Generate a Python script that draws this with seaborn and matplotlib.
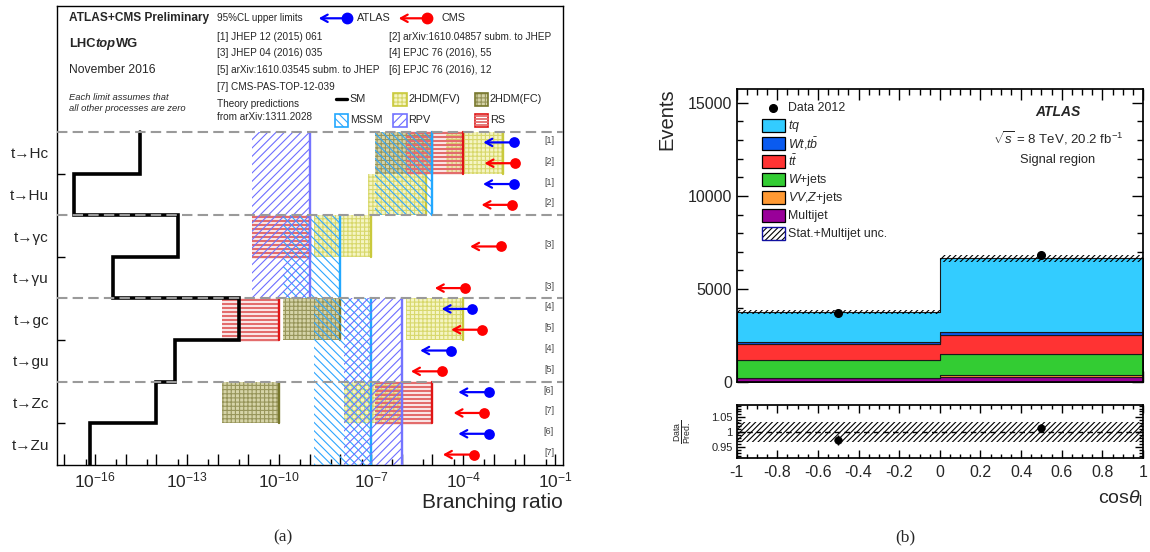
import numpy as np
import pandas as pd
import matplotlib
matplotlib.use("Agg")
import matplotlib.pyplot as plt
import seaborn as sns
from matplotlib.patches import Rectangle
from matplotlib.lines import Line2D
from matplotlib.ticker import FixedLocator, FixedFormatter, MultipleLocator
from matplotlib.transforms import blended_transform_factory

# ---------------- (a) FCNC branching ratio limits ----------------
processes = ["t→Hc", "t→Hu", "t→γc", "t→γu", "t→gc", "t→gu", "t→Zc", "t→Zu"]
sm_br = [3e-15, 2e-17, 5e-14, 4e-16, 5e-12, 4e-14, 1e-14, 7e-17]

atlas_rows = [0, 1, 4, 5, 6, 7]
atlas_limit = [4.6e-3, 4.5e-3, 2.0e-4, 4.0e-5, 7.0e-4, 7.0e-4]
atlas_ref = ["[1]", "[1]", "[4]", "[4]", "[6]", "[6]"]
cms_rows = [0, 1, 2, 3, 4, 5, 6, 7]
cms_limit = [5.0e-3, 4.0e-3, 1.7e-3, 1.2e-4, 4.1e-4, 2.0e-5, 4.9e-4, 2.2e-4]
cms_ref = ["[2]", "[2]", "[3]", "[3]", "[5]", "[5]", "[7]", "[7]"]

# theory predictions: model, first row, last row, low and high branching ratio
theory_model = ["2HDM(FV)", "2HDM(FV)", "2HDM(FV)", "2HDM(FV)", "2HDM(FV)",
                "2HDM(FC)", "2HDM(FC)", "2HDM(FC)",
                "RS", "RS", "RS", "RS",
                "MSSM", "MSSM", "MSSM", "MSSM",
                "RPV", "RPV", "RPV", "RPV"]
theory_first = [0, 1, 2, 4, 6, 0, 4, 6, 0, 2, 4, 6, 0, 2, 4, 6, 0, 2, 4, 6]
theory_last = [0, 1, 2, 4, 6, 0, 4, 6, 0, 2, 4, 6, 1, 3, 5, 7, 1, 3, 5, 7]
theory_low = [2.7e-5, 8.1e-8, 1.35e-9, 1.35e-6, 1.35e-8,
              1.35e-7, 1.35e-10, 1.35e-12,
              1.35e-6, 1.35e-11, 1.35e-12, 1.35e-7,
              1.35e-7, 1.35e-10, 1.35e-9, 1.35e-9,
              1.35e-11, 1.35e-11, 1.35e-8, 1.35e-8]
theory_high = [2e-3, 6e-6, 1e-7, 1e-4, 1e-6,
               1e-5, 1e-8, 1e-10,
               1e-4, 1e-9, 1e-10, 1e-5,
               1e-5, 1e-8, 1e-7, 1e-7,
               1e-9, 1e-9, 1e-6, 1e-6]

references = ["[1] JHEP 12 (2015) 061", "[2] arXiv:1610.04857 subm. to JHEP",
              "[3] JHEP 04 (2016) 035", "[4] EPJC 76 (2016), 55",
              "[5] arXiv:1610.03545 subm. to JHEP", "[6] EPJC 76 (2016), 12",
              "[7] CMS-PAS-TOP-12-039"]
br_label_exp = [-16, -13, -10, -7, -4, -1]

# ---------------- (b) cos theta_l, signal region ----------------
cos_edges = [-1, 0, 1]
cos_centers = [-0.5, 0.5]
bkg_names = ["tq", "Wt,tb", "ttbar", "W+jets", "VV,Z+jets", "Multijet"]
tq = [1575, 3970]
wt_tb = [125, 160]
ttbar = [840, 1020]
wjets = [970, 1100]
vv_zjets = [40, 140]
multijet = [210, 260]
data_2012 = [3700, 6850]
stack_unc = [120, 170]
ratio = [0.974, 1.015]
ratio_unc = 0.033
ratio_xticks = [-1, -0.8, -0.6, -0.4, -0.2, 0, 0.2, 0.4, 0.6, 0.8, 1]
legend_labels = ["Data 2012", r"$tq$", r"$Wt$,$t\bar{b}$", r"$t\bar{t}$", r"$W$+jets",
                 r"$VV$,$Z$+jets", "Multijet", "Stat.+Multijet unc."]

# ---------------- style ----------------
sns.set_theme(style="ticks")
plt.rcParams["font.family"] = ["Liberation Sans", "DejaVu Sans"]
plt.rcParams["mathtext.fontset"] = "custom"
plt.rcParams["mathtext.rm"] = "Liberation Sans"
plt.rcParams["mathtext.it"] = "Liberation Sans:italic"
plt.rcParams["mathtext.bf"] = "Liberation Sans:bold"
plt.rcParams["axes.unicode_minus"] = False
plt.rcParams["hatch.linewidth"] = 0.8

model_style = {
    "2HDM(FV)": dict(face="#f5f5c4", hc="#d8d86c", line="#c9c93c", hatch="++++", z=1),
    "2HDM(FC)": dict(face="#d6d4a8", hc="#97955a", line="#77772c", hatch="++++", z=2),
    "RS": dict(face="none", hc="#e36c6c", line="#e01515", hatch="----", z=3),
    "MSSM": dict(face="none", hc="#2ea6ff", line="#22a8ff", hatch="\\\\\\\\", z=4),
    "RPV": dict(face="none", hc="#6e6eff", line="#7474ff", hatch="////", z=5),
}
bkg_colors = ["#33ccff", "#0a5bf0", "#ff3333", "#33cc33", "#ff9933", "#990099"]

W, H = 1150, 552
fig = plt.figure(figsize=(W / 100, H / 100), dpi=100)


def fx(x):
    return x / W


def fy(y):
    return 1 - y / H


def put(x, y, s, **kw):
    kw.setdefault("va", "center")
    kw.setdefault("ha", "left")
    return fig.text(fx(x), fy(y), s, **kw)


# ================= panel (a) =================
axl = fig.add_axes([fx(57.3), fy(465), (562.7 - 57.3) / W, (465 - 6) / H])
axl.set_xscale("log")
axl.set_xlim(10 ** -17.23, 10 ** -0.75)
axl.set_ylim(465, 6)
axl.set_facecolor("white")
for sp in axl.spines.values():
    sp.set_color("black")
    sp.set_linewidth(1.0)

row_top = 132.0
row_h = (465 - row_top) / 8
edges = row_top + row_h * np.arange(9)

for m, r0, r1, lo, hi in zip(theory_model, theory_first, theory_last, theory_low, theory_high):
    st = model_style[m]
    y0, y1 = edges[r0], edges[r1 + 1]
    if m == "RS":
        # RS is drawn as thick horizontal stripes
        axl.hlines(np.arange(y0 + 1.5, y1, 4.0), lo, hi, color=st["hc"], lw=1.7,
                   zorder=st["z"])
    else:
        axl.add_patch(Rectangle((lo, y0), hi - lo, y1 - y0, facecolor=st["face"],
                                edgecolor=st["hc"], hatch=st["hatch"], linewidth=0,
                                zorder=st["z"]))
    axl.plot([hi, hi], [y0, y1], color=st["line"], lw=1.7, zorder=st["z"] + 0.5)

# SM step line
sm_y = np.repeat(edges, 2)[1:-1]
sm_x = np.repeat(sm_br, 2)
axl.plot(sm_x, sm_y, color="black", lw=2.6, zorder=6, solid_joinstyle="miter")

for y in edges[[0, 2, 4, 6]]:
    axl.axhline(y, color="#9a9a9a", lw=1.5, dashes=(5, 2.5), zorder=7)

# experimental limits
tr = blended_transform_factory(fig.transFigure, axl.transData)
for rows, lims, refs, col, frac in [(atlas_rows, atlas_limit, atlas_ref, "#0000ff", 0.25),
                                    (cms_rows, cms_limit, cms_ref, "#ff0000", 0.75)]:
    ys = [row_top + (r + frac) * row_h for r in rows]
    for x, y, ref in zip(lims, ys, refs):
        axl.annotate("", xy=(x / 10, y), xytext=(x, y),
                     arrowprops=dict(arrowstyle="->,head_length=0.4,head_width=0.22",
                                     color=col, lw=1.6, shrinkA=0, shrinkB=0,
                                     mutation_scale=12), zorder=8)
        axl.text(fx(549), y - 2, ref, transform=tr, ha="center", va="center",
                 fontsize=6.5, color="#444444")
    sns.scatterplot(x=lims, y=ys, color=col, s=60, edgecolor=col, linewidth=0,
                    ax=axl, zorder=9, legend=False)

# axes ticks
dec = 10.0 ** np.arange(-17, 0)
axl.xaxis.set_major_locator(FixedLocator(dec))
axl.xaxis.set_major_formatter(FixedFormatter(
    [r"$10^{%d}$" % e if e in br_label_exp else "" for e in range(-17, 0)]))
axl.xaxis.set_minor_locator(FixedLocator(5 * 10.0 ** np.arange(-18, -1)))
axl.tick_params(axis="x", which="major", direction="in", length=8, width=1,
                top=False, labelsize=12.5, pad=4, color="black")
axl.tick_params(axis="x", which="minor", direction="in", length=4, width=1,
                top=False, color="black")
axl.yaxis.set_major_locator(FixedLocator(edges[:-1] + row_h / 2))
axl.yaxis.set_major_formatter(FixedFormatter(processes))
axl.yaxis.set_minor_locator(FixedLocator(edges[[1, 3, 5, 7]]))
axl.tick_params(axis="y", which="major", length=0, labelsize=11, pad=6)
axl.tick_params(axis="y", which="minor", direction="in", length=6, width=1,
                left=True, right=False, color="black")
axl.set_xlabel("")
axl.set_ylabel("")
put(562.7, 503, "Branching ratio", ha="right", fontsize=15)

# header
put(69.3, 18.3, "ATLAS+CMS Preliminary", fontweight="bold", fontsize=8.6)
put(217.3, 18.3, "95%CL upper limits", fontsize=7.1)
for x_dot, x_txt, col, lab in [(346.7, 356.7, "#0000ff", "ATLAS"), (426.7, 441.7, "#ff0000", "CMS")]:
    axl.annotate("", xy=(fx(x_dot - 28), fy(18.3)), xytext=(fx(x_dot), fy(18.3)),
                 xycoords="figure fraction", textcoords="figure fraction",
                 arrowprops=dict(arrowstyle="->,head_length=0.4,head_width=0.22",
                                 color=col, lw=1.6, shrinkA=0, shrinkB=0, mutation_scale=12))
    fig.add_artist(Line2D([fx(x_dot)], [fy(18.3)], marker="o", ms=7.5, color=col,
                          transform=fig.transFigure))
    put(x_txt, 18.3, lab, fontsize=7.8)

renderer = fig.canvas.get_renderer()
x_run = 69.3
for part, sty in [("LHC", "normal"), ("top", "italic"), ("WG", "normal")]:
    t = put(x_run, 44, part, fontweight="bold", style=sty, fontsize=9.3)
    x_run = t.get_window_extent(renderer).x1
put(69.3, 70, "November 2016", fontsize=8.7)
put(69.3, 97.3, "Each limit assumes that", style="italic", fontsize=6.75)
put(69.3, 108.3, "all other processes are zero", style="italic", fontsize=6.75)
for i, ref in enumerate(references):
    put([217.3, 389.3][i % 2], 36.7 + 16.7 * (i // 2), ref, fontsize=7.2)
put(217.3, 104.3, "Theory predictions", fontsize=7.2)
put(217.3, 117.3, "from arXiv:1311.2028", fontsize=7.2)

fig.add_artist(Line2D([fx(336), fx(347.3)], [fy(99.3), fy(99.3)], color="black", lw=2.4,
                      transform=fig.transFigure))
put(349.3, 99.3, "SM", fontsize=7.8)
for m, xs, yc in [("2HDM(FV)", 393.3, 99.3), ("2HDM(FC)", 475, 99.3),
                  ("MSSM", 335, 120), ("RPV", 393.3, 120), ("RS", 475, 120)]:
    st = model_style[m]
    if m == "RS":
        for yy in np.arange(yc - 4.5, yc + 6, 3.0):
            fig.add_artist(Line2D([fx(xs), fx(xs + 13.3)], [fy(yy), fy(yy)], color=st["hc"],
                                  lw=1.3, transform=fig.transFigure))
    else:
        fig.add_artist(Rectangle((fx(xs), fy(yc + 6.5)), 13.3 / W, 13 / H, facecolor=st["face"],
                                 edgecolor=st["hc"], hatch=st["hatch"], linewidth=0,
                                 transform=fig.transFigure))
    fig.add_artist(Rectangle((fx(xs), fy(yc + 6.5)), 13.3 / W, 13 / H, fill=False,
                             edgecolor=st["line"], linewidth=1.2, transform=fig.transFigure))
    put(xs + 15, yc, m, fontsize=7.8)

put(283, 537, "(a)", ha="center", family="Liberation Serif", fontsize=12.5)

# ================= panel (b) =================
axm = fig.add_axes([fx(736.7), fy(382.3), (1143 - 736.7) / W, (382.3 - 89) / H])
axr = fig.add_axes([fx(736.7), fy(457.7), (1143 - 736.7) / W, (457.7 - 405) / H])

stack = pd.DataFrame({
    "cos": np.tile(cos_centers, len(bkg_names)),
    "process": np.repeat(bkg_names, len(cos_centers)),
    "events": np.concatenate([tq, wt_tb, ttbar, wjets, vv_zjets, multijet]),
})
sns.histplot(data=stack, x="cos", weights="events", hue="process", hue_order=bkg_names,
             palette=dict(zip(bkg_names, bkg_colors)), multiple="stack", bins=cos_edges,
             element="step", alpha=1, edgecolor="#1a1a1a", linewidth=0.8,
             legend=False, ax=axm)
total = np.sum([tq, wt_tb, ttbar, wjets, vv_zjets, multijet], axis=0)
axm.bar(cos_centers, 2 * np.array(stack_unc), bottom=total - np.array(stack_unc), width=1.0,
        facecolor="none", edgecolor="black", hatch="//////", linewidth=0, zorder=3)
axm.errorbar(cos_centers, data_2012, yerr=np.sqrt(data_2012), fmt="o", color="black",
             ms=5.5, elinewidth=1, capsize=0, zorder=5)
axm.set_xlim(-1, 1)
axm.set_ylim(0, 15735)
axm.set_xlabel("")
axm.set_ylabel("")
axm.yaxis.set_major_locator(FixedLocator([0, 5000, 10000, 15000]))
axm.yaxis.set_minor_locator(MultipleLocator(1000))
axm.xaxis.set_major_locator(FixedLocator(ratio_xticks))
axm.xaxis.set_minor_locator(MultipleLocator(0.05))
axm.tick_params(which="both", direction="in", top=True, right=True, color="black")
axm.tick_params(which="major", length=8, width=1, labelsize=11.5, pad=3.5, labelbottom=False)
axm.tick_params(which="minor", length=4, width=1)
for sp in axm.spines.values():
    sp.set_color("black")

put(1058.3, 111.7, "ATLAS", ha="center", fontweight="bold", style="italic", fontsize=10)
put(1058, 137.7, r"$\sqrt{s}$ = 8 TeV, 20.2 fb$^{-1}$", ha="center", fontsize=9.5)
put(1058, 160, "Signal region", ha="center", fontsize=9.3)
put(667, 88, "Events", rotation=90, ha="center", va="top", fontsize=14.5)

# legend of panel (b)
for k, lab in enumerate(legend_labels):
    yc = 107.7 + 18 * k
    if k == 0:
        fig.add_artist(Line2D([fx(773.3)], [fy(yc)], marker="o", ms=5.5, color="black",
                              transform=fig.transFigure))
    elif k <= len(bkg_colors):
        fig.add_artist(Rectangle((fx(762.3), fy(yc + 6.5)), 22.7 / W, 13 / H,
                                 facecolor=bkg_colors[k - 1], edgecolor="black",
                                 linewidth=0.9, transform=fig.transFigure))
    else:
        fig.add_artist(Rectangle((fx(762.3), fy(yc + 6.5)), 22.7 / W, 13 / H,
                                 facecolor="white", edgecolor="black", hatch="//////",
                                 linewidth=0, transform=fig.transFigure))
        fig.add_artist(Rectangle((fx(762.3), fy(yc + 6.5)), 22.7 / W, 13 / H, fill=False,
                                 edgecolor="#1010a0", linewidth=1.0, transform=fig.transFigure))
    put(788.3, yc, lab, fontsize=8.9)

# ratio panel
axr.fill_between([-1, 1], 1 - ratio_unc, 1 + ratio_unc, facecolor="none", edgecolor="black",
                 hatch="//////", linewidth=0)
axr.axhline(1, color="black", lw=1, ls=(0, (4, 3)))
axr.errorbar(cos_centers, ratio, yerr=np.sqrt(data_2012) / total, fmt="none",
             ecolor="black", elinewidth=1, capsize=0)
sns.scatterplot(x=cos_centers, y=ratio, color="black", s=30, edgecolor="black",
                ax=axr, zorder=5, legend=False)
axr.set_xlim(-1, 1)
axr.set_ylim(0.913, 1.092)
axr.yaxis.set_major_locator(FixedLocator([0.95, 1.0, 1.05]))
axr.yaxis.set_major_formatter(FixedFormatter(["0.95", "1", "1.05"]))
axr.yaxis.set_minor_locator(MultipleLocator(0.01))
axr.xaxis.set_major_locator(FixedLocator(ratio_xticks))
axr.xaxis.set_major_formatter(FixedFormatter(["%g" % v for v in ratio_xticks]))
axr.xaxis.set_minor_locator(MultipleLocator(0.05))
axr.tick_params(which="both", direction="in", top=True, right=True, color="black")
axr.tick_params(which="major", length=6, width=1, pad=3)
axr.tick_params(which="minor", length=3, width=1)
axr.tick_params(axis="x", labelsize=11.5, pad=5)
axr.tick_params(axis="y", labelsize=8)
for sp in axr.spines.values():
    sp.set_color("black")
put(683, 432, r"$\frac{\mathrm{Data}}{\mathrm{Pred.}}$", rotation=90, ha="center", fontsize=9)
put(1143, 498, r"cos$\theta_{\mathrm{l}}$", ha="right", fontsize=14)
put(905, 537, "(b)", ha="center", family="Liberation Serif", fontsize=12.5)

fig.savefig("out.png", dpi=100)
